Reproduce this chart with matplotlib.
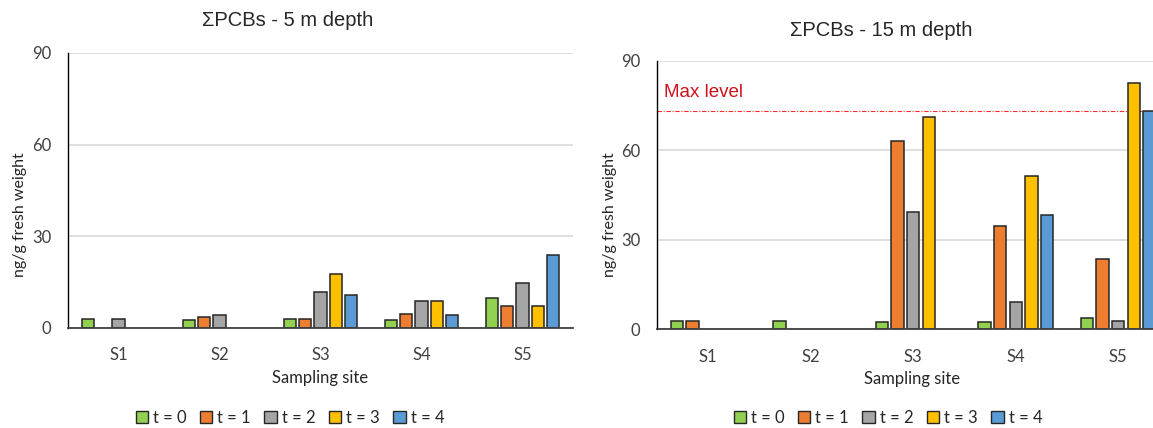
import numpy as np
import matplotlib.pyplot as plt
from matplotlib.patches import Patch

sites = ["S1", "S2", "S3", "S4", "S5"]
series_labels = ["t = 0", "t = 1", "t = 2", "t = 3", "t = 4"]
colors = ["#92D050", "#ED7D31", "#A5A5A5", "#FFC000", "#5B9BD5"]

# Sum of PCBs (ng/g fresh weight); None = not measured
depth5_t0 = [2.8, 2.6, 2.8, 2.6, 9.8]
depth5_t1 = [None, 3.7, 2.8, 4.5, 7.1]
depth5_t2 = [2.8, 4.1, 11.7, 8.9, 14.6]
depth5_t3 = [None, None, 17.8, 8.9, 7.1]
depth5_t4 = [None, None, 10.9, 4.2, 23.8]

depth15_t0 = [2.8, 2.8, 2.6, 2.6, 3.9]
depth15_t1 = [2.8, None, 63.0, 34.6, 23.7]
depth15_t2 = [None, None, 39.2, 9.2, 2.8]
depth15_t3 = [None, None, 71.0, 51.3, 82.6]
depth15_t4 = [None, None, None, 38.2, 73.3]

max_level = 73.0
yticks = [0, 30, 60, 90]

calibri_like = ["Lato", "DejaVu Sans"]
arial_like = ["Liberation Sans", "DejaVu Sans"]
label_grey = "#404040"

fig = plt.figure(figsize=(11.53, 4.28), dpi=100)


def draw_panel(ax, series):
    x = np.arange(len(sites))
    step, width = 0.153, 0.12
    for i, vals in enumerate(series):
        xs = [x[j] + (i - 2) * step for j, v in enumerate(vals) if v is not None]
        hs = [v for v in vals if v is not None]
        ax.bar(xs, hs, width=width, color=colors[i], edgecolor="#262626",
               linewidth=1.1, zorder=3)
    ax.set_xlim(-0.5, len(sites) - 0.5)
    ax.set_ylim(0, 90)
    ax.set_yticks(yticks)
    ax.set_xticks(x)
    ax.set_xticklabels(sites)
    ax.grid(axis="y", color="#D9D9D9", linewidth=1.2, zorder=0)
    ax.set_axisbelow(True)
    for s in ("top", "right"):
        ax.spines[s].set_visible(False)
    ax.spines["left"].set_color("#000000")
    ax.spines["left"].set_linewidth(1.0)
    ax.spines["bottom"].set_color("#404040")
    ax.spines["bottom"].set_linewidth(1.3)
    ax.spines["bottom"].set_zorder(4)
    ax.tick_params(length=0)
    ax.tick_params(axis="y", pad=12)
    ax.tick_params(axis="x", pad=14)
    for lab in ax.get_xticklabels() + ax.get_yticklabels():
        lab.set_fontfamily(calibri_like)
        lab.set_fontsize(12)
        lab.set_color(label_grey)


ax1 = fig.add_axes([68 / 1153, 1 - 328 / 428, 505 / 1153, 275 / 428])
draw_panel(ax1, [depth5_t0, depth5_t1, depth5_t2, depth5_t3, depth5_t4])

ax2 = fig.add_axes([657 / 1153, 1 - 329.3 / 428, 512.5 / 1153, 268.6 / 428])
draw_panel(ax2, [depth15_t0, depth15_t1, depth15_t2, depth15_t3, depth15_t4])
ax2.axhline(max_level, color="#FF2A2A", linewidth=0.8,
            linestyle=(0, (4, 1.5, 1, 1.5)), zorder=2)
ax2.text(0.013, (max_level + 6.2) / 90, "Max level", transform=ax2.transAxes,
         color="#D0101A", fontsize=13.5, family=arial_like, va="center", ha="left")

# Titles
fig.text(288 / 1153, 1 - 21 / 428, "ΣPCBs - 5 m depth", fontsize=14.5,
         family=arial_like, color="#262626", ha="center", va="center")
fig.text(881 / 1153, 1 - 31 / 428, "ΣPCBs - 15 m depth", fontsize=14.5,
         family=arial_like, color="#262626", ha="center", va="center")

# Axis titles
for xc, yc in ((20, 215), (610, 215)):
    fig.text(xc / 1153, 1 - yc / 428, "ng/g fresh weight", rotation=90,
             fontsize=11.5, family=calibri_like, color="#262626",
             ha="center", va="center")
for xc, yc in ((320, 378), (912, 379)):
    fig.text(xc / 1153, 1 - yc / 428, "Sampling site", fontsize=12,
             family=calibri_like, color="#262626", ha="center", va="center")

# Legends
handles = [Patch(facecolor=c, edgecolor="#262626", linewidth=1.0, label=l)
           for c, l in zip(colors, series_labels)]
for xc in (290, 888):
    leg = fig.legend(handles=handles, loc="center", ncol=5, frameon=False,
                     bbox_to_anchor=(xc / 1153, 1 - 418 / 428),
                     handlelength=0.75, handleheight=0.75, handletextpad=0.3,
                     columnspacing=0.8, prop={"family": calibri_like, "size": 12})
    for t in leg.get_texts():
        t.set_color("#262626")

fig.savefig("out.png", dpi=100)
